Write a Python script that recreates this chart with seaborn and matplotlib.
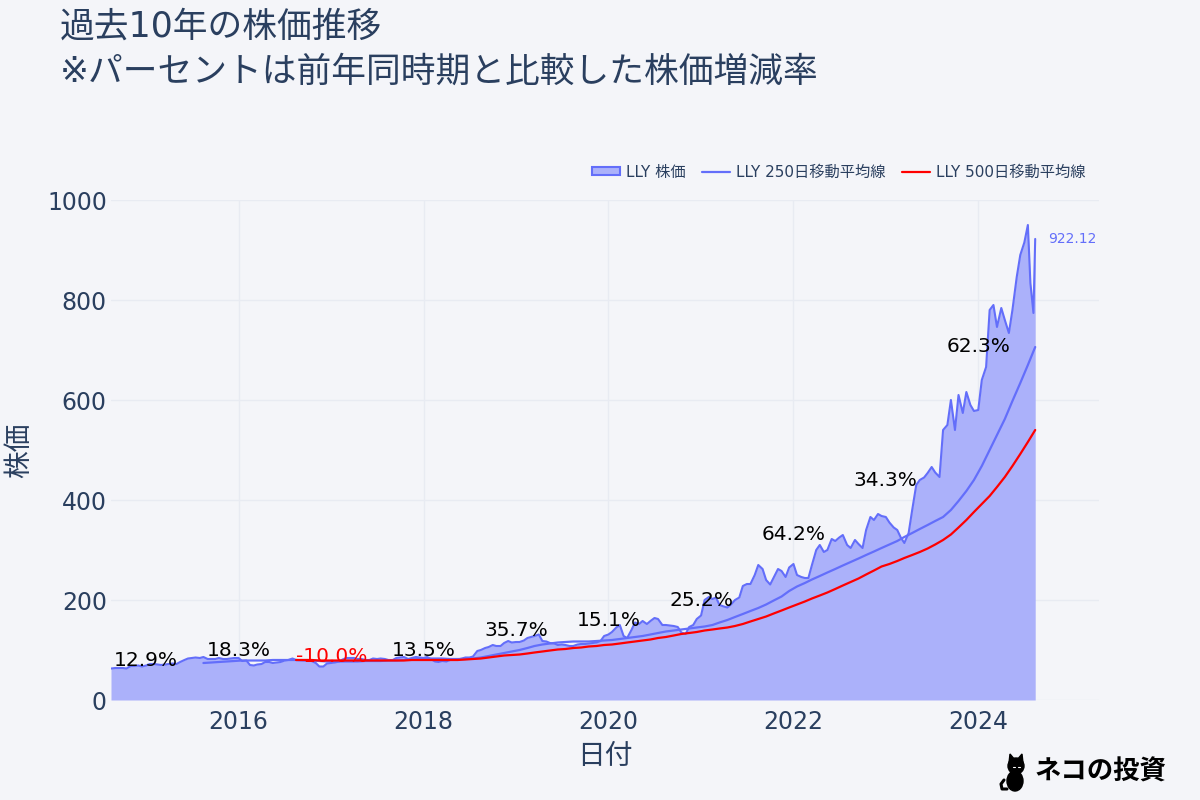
import pandas as pd
import matplotlib.pyplot as plt
import matplotlib.dates as mdates
from matplotlib.patches import Patch, Ellipse, Circle, Polygon
from matplotlib.lines import Line2D
import seaborn as sns

# LLY 株価（半月ごと、チャートから読み取り）
price_2014 = [63, 64, 64, 64, 63, 68, 68, 69, 67]
price_2015 = [69, 72, 72, 71, 70, 71, 72, 73, 72, 76, 80, 83,
              84, 85, 84, 86, 82, 82, 82, 84, 82, 82, 83, 84]
price_2016 = [84, 78, 79, 70, 69, 71, 72, 76, 76, 74, 75, 76,
              79, 80, 83, 80, 80, 80, 80, 78, 74, 67, 67, 73]
price_2017 = [74, 75, 77, 81, 84, 84, 84, 82, 82, 80, 80, 83,
              82, 83, 82, 80, 80, 84, 85, 86, 82, 84, 86, 85]
price_2018 = [84, 86, 81, 77, 76, 78, 77, 80, 81, 81, 83, 85,
              85, 87, 98, 100, 104, 106, 110, 108, 108, 114, 118, 115]
price_2019 = [116, 116, 119, 124, 126, 128, 131, 118, 117, 114, 113, 110,
              111, 110, 108, 108, 111, 112, 112, 113, 114, 115, 118, 128]
price_2020 = [131, 136, 145, 150, 128, 124, 140, 155, 152, 158, 152, 158,
              164, 162, 150, 150, 149, 148, 146, 135, 132, 146, 150, 162]
price_2021 = [169, 200, 206, 202, 205, 190, 187, 185, 192, 200, 205, 228,
              232, 232, 250, 270, 262, 240, 231, 245, 262, 258, 246, 265]
price_2022 = [272, 250, 246, 244, 244, 270, 300, 310, 296, 300, 322, 318,
              325, 330, 310, 304, 320, 312, 304, 340, 366, 360, 372, 368]
price_2023 = [366, 355, 345, 340, 325, 314, 334, 380, 430, 440, 445, 454,
              466, 455, 446, 540, 550, 600, 540, 610, 574, 616, 590, 578]
price_2024 = [580, 640, 666, 780, 790, 746, 784, 760, 734, 780, 846, 890, 915, 950]
tail_dates = ["2024-07-25", "2024-08-06", "2024-08-13"]
tail_price = [834, 774, 922.12]

# 250日・500日移動平均線（月ごと）
ma250 = [74, 75, 76, 77, 78,
         79, 79, 79, 79, 80, 80, 80, 80, 79, 79, 78, 77,
         77, 77, 77, 77, 78, 78, 78, 79, 79, 80, 81, 82,
         83, 83, 83, 82, 82, 82, 83, 85, 88, 91, 94, 97,
         100, 104, 108, 111, 113, 115, 116, 117, 117, 117, 118, 119,
         120, 122, 124, 126, 128, 131, 134, 137, 139, 141, 143, 145,
         147, 150, 155, 160, 166, 172, 178, 184, 191, 199, 207, 218,
         227, 234, 241, 248, 255, 262, 269, 276, 283, 290, 297, 304,
         311, 318, 326, 334, 342, 350, 358, 366, 380, 398, 418, 440,
         468, 500, 530, 562, 598, 634, 670, 706]
ma500 = [80, 80, 80, 79, 79,
         79, 79, 79, 79, 79, 79, 79, 79, 79, 79, 80, 80,
         80, 80, 80, 80, 80, 81, 82, 83, 85, 87, 89, 90,
         91, 93, 95, 97, 99, 101, 102, 104, 105, 107, 108, 110,
         111, 113, 115, 117, 119, 121, 124, 126, 129, 132, 134, 136,
         139, 141, 143, 145, 148, 152, 157, 162, 167, 173, 179, 185,
         191, 197, 203, 209, 215, 222, 229, 236, 243, 251, 259, 267,
         272, 278, 284, 290, 296, 303, 311, 320, 331, 345, 360, 376,
         392, 408, 426, 446, 468, 492, 516, 540]

# 前年同時期比
label_years = [2015, 2016, 2017, 2018, 2019, 2020, 2021, 2022, 2023, 2024]
label_text = ["12.9%", "18.3%", "-10.0%", "13.5%", "35.7%",
              "15.1%", "25.2%", "64.2%", "34.3%", "62.3%"]
label_y = [80, 100, 88, 100, 138, 158, 200, 332, 438, 708]

price = (price_2014 + price_2015 + price_2016 + price_2017 + price_2018 + price_2019
         + price_2020 + price_2021 + price_2022 + price_2023 + price_2024)
price_dates = list(pd.date_range("2014-08-15", periods=len(price), freq="SMS")) + list(pd.to_datetime(tail_dates))
price = price + tail_price

end_date = pd.Timestamp("2024-08-13")
ma250_dates = list(pd.date_range("2015-08-01", periods=len(ma250) - 1, freq="MS") + pd.DateOffset(days=14)) + [end_date]
ma500_dates = list(pd.date_range("2016-08-01", periods=len(ma500) - 1, freq="MS") + pd.DateOffset(days=14)) + [end_date]

df = pd.DataFrame({"date": price_dates, "price": price})
df250 = pd.DataFrame({"date": ma250_dates, "ma": ma250})
df500 = pd.DataFrame({"date": ma500_dates, "ma": ma500})

bg = "#f4f5f9"
txt = "#2a3f5f"
blue = "#636efa"
fillc = "#abb1fa"

sns.set_theme(style="whitegrid")
plt.rcParams["font.family"] = ["DejaVu Sans", "Noto Sans CJK JP"]

fig = plt.figure(figsize=(12, 8), dpi=100, facecolor=bg)
ax = fig.add_axes([111 / 1200, 100 / 800, 988 / 1200, 500 / 800])
ax.set_facecolor(bg)

ax.fill_between(df["date"], df["price"], 0, color=fillc, lw=0, zorder=1)
sns.lineplot(data=df, x="date", y="price", color=blue, lw=1.5, ax=ax, zorder=3)
sns.lineplot(data=df250, x="date", y="ma", color=blue, lw=1.6, ax=ax, zorder=3)
sns.lineplot(data=df500, x="date", y="ma", color="red", lw=1.6, ax=ax, zorder=3)

for yr, t, y in zip(label_years, label_text, label_y):
    c = "red" if t.startswith("-") else "black"
    ax.text(pd.Timestamp(f"{yr}-01-01"), y, t, ha="center", va="center",
            fontsize=14.5, color=c, zorder=5)

ax.annotate(f"{tail_price[-1]:.2f}", (df["date"].iloc[-1], tail_price[-1]),
            xytext=(9, 0), textcoords="offset points", va="center", ha="left",
            fontsize=10, color=blue, annotation_clip=False)

ax.set_xlim(pd.Timestamp("2014-08-15"), pd.Timestamp("2025-04-22"))
ax.set_ylim(0, 1000)
ax.set_yticks([0, 200, 400, 600, 800, 1000])
ax.xaxis.set_major_locator(mdates.YearLocator(2))
ax.xaxis.set_major_formatter(mdates.DateFormatter("%Y"))
ax.grid(True, color="#e8ebf2", lw=1)
ax.set_axisbelow(True)
for s in ax.spines.values():
    s.set_visible(False)
ax.tick_params(axis="both", length=0, labelsize=17, colors=txt)
ax.tick_params(axis="x", pad=7)
ax.tick_params(axis="y", pad=3)
ax.set_xlabel("日付", fontsize=20, color=txt, labelpad=6)
ax.set_ylabel("株価", fontsize=20, color=txt, labelpad=10)

handles = [Patch(facecolor=fillc, edgecolor=blue, lw=1.5),
           Line2D([0], [0], color=blue, lw=1.6),
           Line2D([0], [0], color="red", lw=1.6)]
labels = ["LLY 株価", "LLY 250日移動平均線", "LLY 500日移動平均線"]
fig.legend(handles, labels, ncol=3, loc="center right", bbox_to_anchor=(0.916, 0.785),
           frameon=False, fontsize=11, labelcolor=txt, handlelength=1.8,
           handleheight=0.5, columnspacing=1.1, handletextpad=0.4)

fig.text(60 / 1200, 1 - 27 / 800, "過去10年の株価推移", fontsize=25, color=txt, va="center")
fig.text(60 / 1200, 1 - 72 / 800, "※パーセントは前年同時期と比較した株価増減率", fontsize=25, color=txt, va="center")

# ロゴ（ネコのシルエット＋文字）
logo = fig.add_axes([995 / 1200, 8 / 800, 40 / 1200, 44 / 800])
logo.set_xlim(0, 40)
logo.set_ylim(0, 44)
logo.axis("off")
logo.add_patch(Ellipse((20, 11), 16, 20, color="black"))
logo.add_patch(Circle((21, 26), 8, color="black"))
logo.add_patch(Polygon([[14, 29], [15, 38], [20, 32]], color="black"))
logo.add_patch(Polygon([[22, 32], [27, 38], [28, 29]], color="black"))
logo.plot([12, 7, 6, 9], [3, 3, 8, 12], color="black", lw=2.2, solid_capstyle="round")
logo.plot([18, 20], [25, 25], color="white", lw=0.8)
logo.plot([23, 25], [25, 25], color="white", lw=0.8)

fig.text(1035 / 1200, 1 - 772 / 800, "ネコの投資", fontsize=19, fontweight="bold",
         color="black", va="center", family=["Noto Sans CJK JP"])

fig.savefig("out.png", dpi=100, facecolor=bg)
